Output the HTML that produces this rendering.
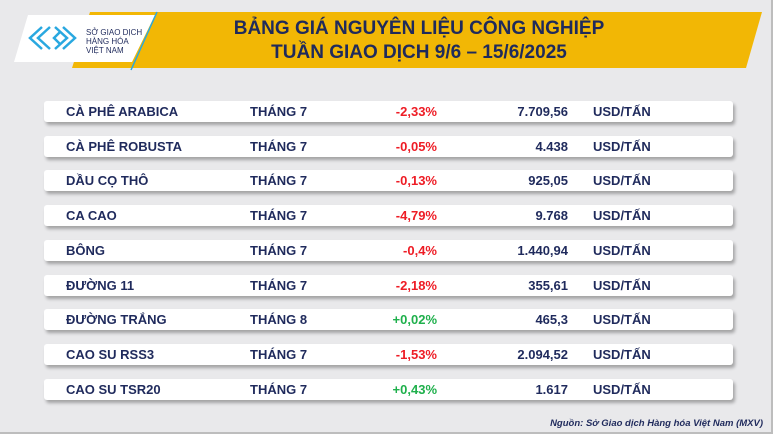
<!DOCTYPE html>
<html><head><meta charset="utf-8"><style>
body{margin:0;width:777px;height:437px;overflow:hidden;background:#fff;font-family:"Liberation Sans",sans-serif}
#bg{position:absolute;left:0;top:0;width:771px;height:432px;background:#e9e9eb;border-right:2px solid #bdbdbd;border-bottom:2px solid #bdbdbd}
.row{position:absolute;left:44px;width:689px;height:21px;background:#fff;border-radius:3px;box-shadow:2px 3px 3px rgba(0,0,0,.3);font-weight:bold;font-size:13px;color:#1f2a5c;line-height:21px}
.row span{position:absolute;top:0}
.n{left:22px}.t{left:206px}.p{right:296px}.v{right:165px}.u{left:549px}
.r{color:#ee1c25}.g{color:#1fb04c}
</style></head><body>
<div id="bg"></div>
<svg style="position:absolute;left:0;top:0" width="777" height="80">
<polygon points="90,12 762,12 746,68 72,68" fill="#f2b705"/>
<polygon points="28,15 155,15 132,62 14,62" fill="#fff"/>
<line x1="157" y1="12" x2="131" y2="70" stroke="#29a8e0" stroke-width="1.5"/>
<g fill="none" stroke="#29a8e0" stroke-width="2.5">
<polyline points="42,27 30,38 42,49"/><polyline points="50,27 38,38 50,49"/>
<polyline points="55,27 67,38 55,49"/><polyline points="63,27 75,38 63,49"/>
<polyline points="60,32 54,38 60,44"/>
</g>
<text x="86" y="35" font-size="8" fill="#1f2a5c" font-family="Liberation Sans">SỞ GIAO DỊCH</text>
<text x="86" y="44" font-size="8" fill="#1f2a5c" font-family="Liberation Sans">HÀNG HÓA</text>
<text x="86" y="53" font-size="8" fill="#1f2a5c" font-family="Liberation Sans">VIỆT NAM</text>
<text x="419" y="34" text-anchor="middle" font-size="19" font-weight="bold" fill="#1f2a5c" font-family="Liberation Sans">BẢNG GIÁ NGUYÊN LIỆU CÔNG NGHIỆP</text>
<text x="419" y="58" text-anchor="middle" font-size="19" font-weight="bold" fill="#1f2a5c" font-family="Liberation Sans">TUẦN GIAO DỊCH 9/6 – 15/6/2025</text>
</svg>
<div class="row" style="top:101px"><span class="n">CÀ PHÊ ARABICA</span><span class="t">THÁNG 7</span><span class="p r">-2,33%</span><span class="v">7.709,56</span><span class="u">USD/TẤN</span></div>
<div class="row" style="top:136px"><span class="n">CÀ PHÊ ROBUSTA</span><span class="t">THÁNG 7</span><span class="p r">-0,05%</span><span class="v">4.438</span><span class="u">USD/TẤN</span></div>
<div class="row" style="top:170px"><span class="n">DẦU CỌ THÔ</span><span class="t">THÁNG 7</span><span class="p r">-0,13%</span><span class="v">925,05</span><span class="u">USD/TẤN</span></div>
<div class="row" style="top:205px"><span class="n">CA CAO</span><span class="t">THÁNG 7</span><span class="p r">-4,79%</span><span class="v">9.768</span><span class="u">USD/TẤN</span></div>
<div class="row" style="top:240px"><span class="n">BÔNG</span><span class="t">THÁNG 7</span><span class="p r">-0,4%</span><span class="v">1.440,94</span><span class="u">USD/TẤN</span></div>
<div class="row" style="top:275px"><span class="n">ĐƯỜNG 11</span><span class="t">THÁNG 7</span><span class="p r">-2,18%</span><span class="v">355,61</span><span class="u">USD/TẤN</span></div>
<div class="row" style="top:309px"><span class="n">ĐƯỜNG TRẮNG</span><span class="t">THÁNG 8</span><span class="p g">+0,02%</span><span class="v">465,3</span><span class="u">USD/TẤN</span></div>
<div class="row" style="top:344px"><span class="n">CAO SU RSS3</span><span class="t">THÁNG 7</span><span class="p r">-1,53%</span><span class="v">2.094,52</span><span class="u">USD/TẤN</span></div>
<div class="row" style="top:379px"><span class="n">CAO SU TSR20</span><span class="t">THÁNG 7</span><span class="p g">+0,43%</span><span class="v">1.617</span><span class="u">USD/TẤN</span></div>
<div style="position:absolute;right:14px;top:418px;font-size:9.5px;font-style:italic;font-weight:bold;color:#1f2a5c">Nguồn: Sở Giao dịch Hàng hóa Việt Nam (MXV)</div>
</body></html>
